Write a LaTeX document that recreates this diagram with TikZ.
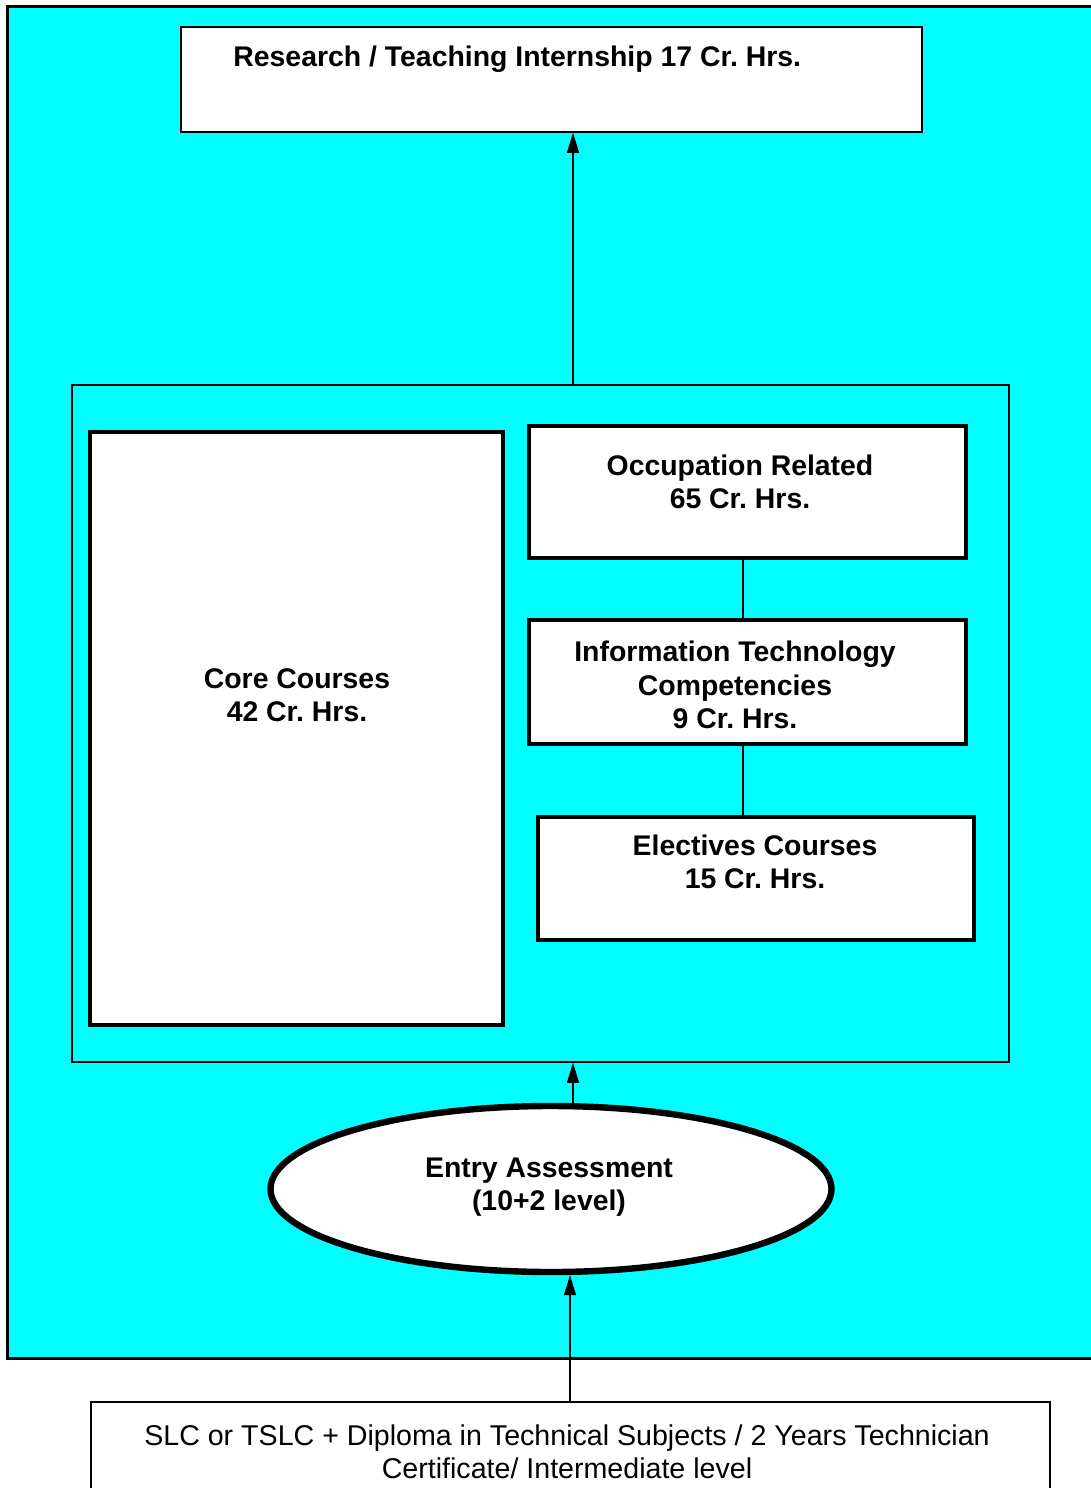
\documentclass[tikz,border=0pt]{standalone}
\usepackage{fontspec}
\setmainfont{Liberation Sans}
\frenchspacing
\usetikzlibrary{positioning,arrows.meta,fit,shapes}
\definecolor{aqua}{RGB}{0,255,255}
\tikzset{
thinbox/.style={draw, rectangle, line width=0.75pt, inner sep=0pt},
thickbox/.style={draw, rectangle, fill=white, line width=2pt, inner sep=0pt},
txt/.style={align=center, font=\bfseries\fontsize{14.2}{16.75}\selectfont, inner sep=0pt},
plain/.style={align=center, font=\fontsize{14.3}{16.75}\selectfont, inner sep=0pt},
link/.style={line width=0.6pt},
>={Triangle[length=10pt,width=6pt]},
}
\begin{document}
\begin{tikzpicture}[x=0.5pt,y=-0.5pt]
            \useasboundingbox (0,0) rectangle (1091,1488);
            % outer frame
            \draw[fill=aqua, line width=1.5pt] (7,6) rectangle (1096,1358);

            \node[thinbox, fill=white, fit={(181,27) (922,132)}] (research) {};
            \node[txt, anchor=west] (researchtxt) at (233,59) {Research / Teaching Internship 17 Cr. Hrs.};

            \node[thinbox, fill=aqua, fit={(72,385) (1009,1062)}] (mid) {};

            \node[thickbox, fit={(90,432) (503,1025)}] (core) {};
            \node[txt] (coretxt) at (297,695) {Core Courses\\42 Cr. Hrs.};

            \node[thickbox, fit={(529,426) (966,558)}] (occ) {};
            \node[txt] (occtxt) at (740,482) {Occupation Related\\65 Cr. Hrs.};

            \node[thickbox, fit={(529,620) (966,744)}] (it) {};
            \node[txt] (ittxt) at (735,685) {Information Technology\\Competencies\\9 Cr. Hrs.};

            \node[thickbox, fit={(538,817) (974,940)}] (elec) {};
            \node[txt] (electxt) at (755,862) {Electives Courses\\15 Cr. Hrs.};

            \node[draw, ellipse, fill=white, line width=3.2pt, inner sep=0pt,
                  minimum width=280.5pt, minimum height=83pt] (entry) at (551,1189) {};
            \node[txt] (entrytxt) at (549,1187) {Entry Assessment\\(10+2 level)};

            \node[thinbox, fill=white, fit={(91,1402) (1050,1530)}] (slc) {};
            \node[plain] (slctxt) at (567,1452) {SLC or TSLC + Diploma in Technical Subjects / 2 Years Technician\\Certificate/ Intermediate level};

            \coordinate (up) at (573,0);
            \coordinate (in) at (570,0);
            \coordinate (spine) at (743,0);

            \draw[link, ->] (mid.north -| up) -- (research.south -| up);
            \draw[link] (occ.south -| spine) -- (it.north -| spine);
            \draw[link] (it.south -| spine) -- (elec.north -| spine);
            \draw[link, ->] (entry.north -| up) -- (mid.south -| up);
            \draw[link, ->] (slc.north -| in) -- (entry.south -| in);
\end{tikzpicture}
\end{document}
